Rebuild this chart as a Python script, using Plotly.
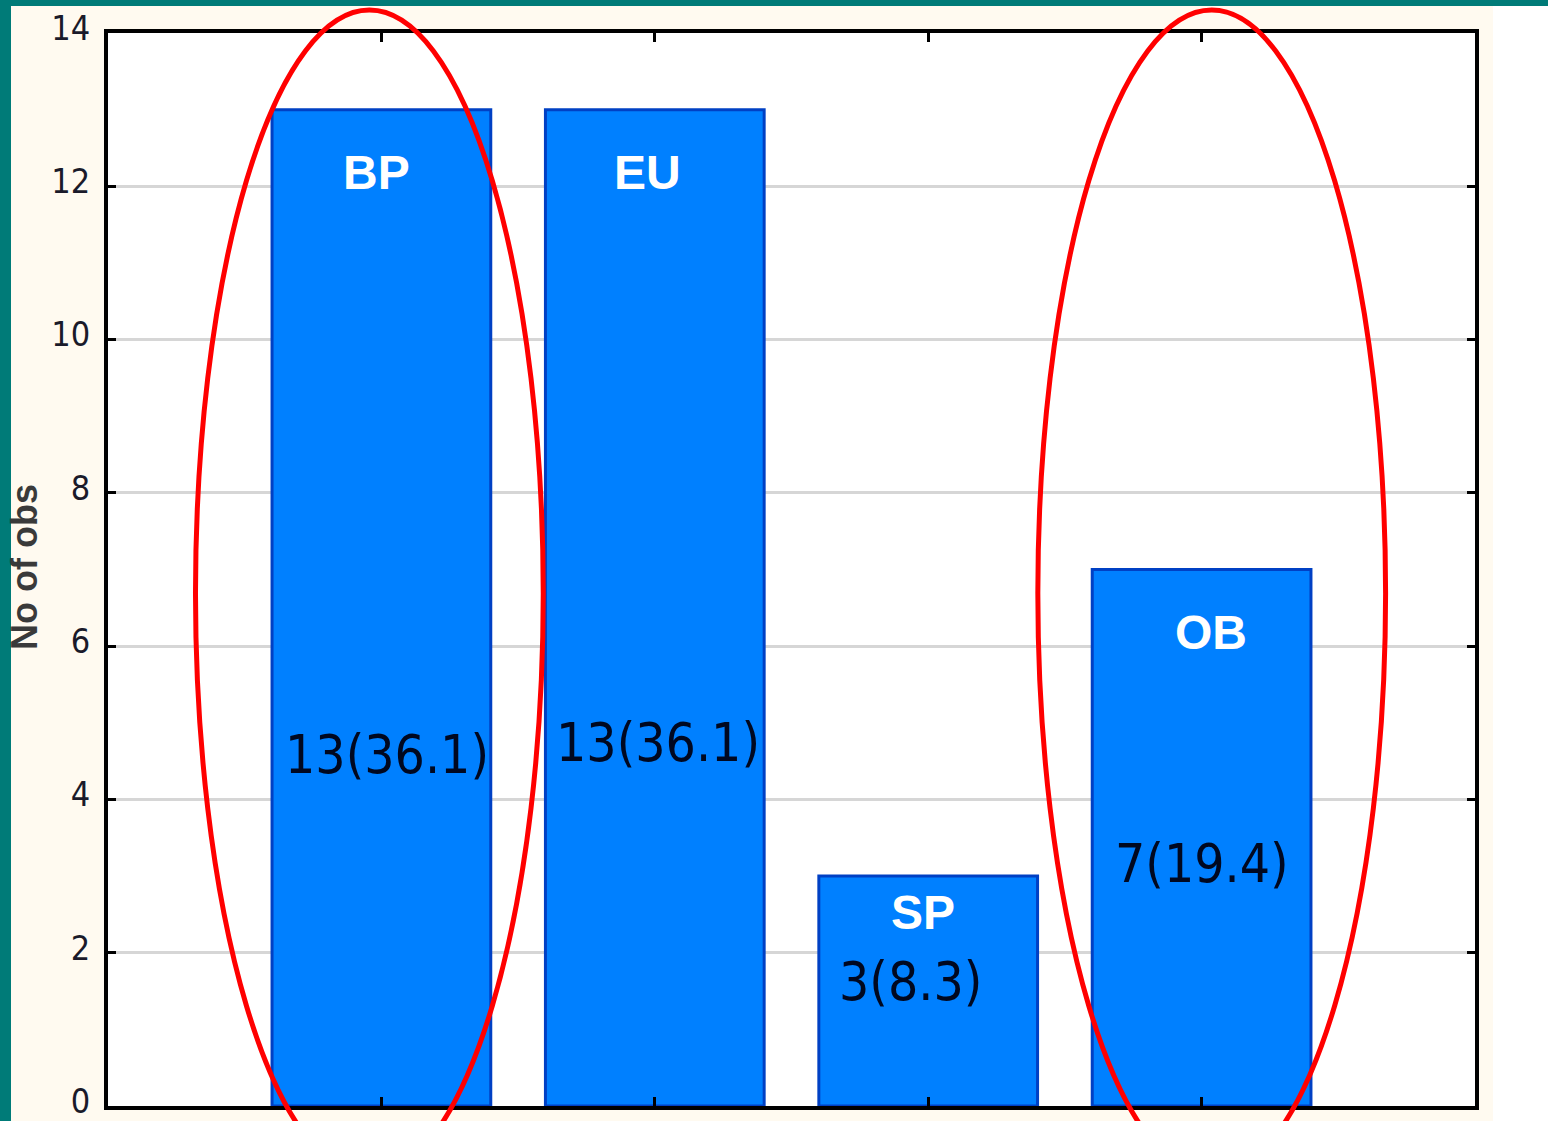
import plotly.graph_objects as go

# Observation counts per group
groups = ["BP", "EU", "SP", "OB"]
counts = [13, 13, 3, 7]
percents = [36.1, 36.1, 8.3, 19.4]
y_ticks = [0, 2, 4, 6, 8, 10, 12, 14]

# Vertical placement of the in-bar labels (axis units)
name_label_y = [12.18, 12.18, 2.53, 6.18]
count_label_y = [4.58, 4.74, 1.62, 3.16]
name_label_dx = [-5, -7, -5, 9]
count_label_dx = [6, 3, -18, 0]

# Groups highlighted with an ellipse
highlighted = ["BP", "OB"]

W, H = 1548, 1121
M_L, M_R, M_T, M_B = 108, 73, 33, 15
X_RANGE = [-1, 4]
Y_RANGE = [0, 14]

TEAL = "#007B78"
CREAM = "#FFFAF0"
BAR_FILL = "#0080FF"
BAR_EDGE = "#0040C4"
NARROW = "Liberation Sans Narrow, Arial Narrow, DejaVu Sans Condensed, sans-serif"

fig = go.Figure()

fig.add_trace(go.Bar(
    x=groups,
    y=counts,
    width=0.8,
    marker=dict(color=BAR_FILL, line=dict(color=BAR_EDGE, width=3)),
    hoverinfo="skip",
    showlegend=False,
))

# Labels inside the bars
for i, g in enumerate(groups):
    fig.add_annotation(
        x=g, y=name_label_y[i], text=f"<b>{g}</b>", showarrow=False,
        xshift=name_label_dx[i],
        font=dict(family="Liberation Sans, Arial, sans-serif", size=48, color="white"),
    )
    fig.add_annotation(
        x=g, y=count_label_y[i], text=f"{counts[i]}({percents[i]})", showarrow=False,
        xshift=count_label_dx[i],
        font=dict(family=NARROW, size=53, color="#000820"),
    )

# Ellipses around the highlighted groups, placed in axis units
ell_half_w = 0.636
ell_cy, ell_half_h = 6.69, 7.61
ell_dx = {"BP": -0.044, "OB": 0.037}
x_span = X_RANGE[1] - X_RANGE[0]
y_span = Y_RANGE[1] - Y_RANGE[0]
for g in highlighted:
    cx = groups.index(g) + ell_dx[g]
    fig.add_shape(
        type="circle", xref="x domain", yref="y domain", layer="above",
        x0=(cx - ell_half_w - X_RANGE[0]) / x_span, x1=(cx + ell_half_w - X_RANGE[0]) / x_span,
        y0=(ell_cy - ell_half_h - Y_RANGE[0]) / y_span, y1=(ell_cy + ell_half_h - Y_RANGE[0]) / y_span,
        line=dict(color="#FF0000", width=5),
    )

# Frame around the page: teal strips on top/left, white strip on the right
pw = W - M_L - M_R
ph = H - M_T - M_B
def px_x(p):
    return (p - M_L) / pw
def px_y(p):
    return 1 - (p - M_T) / ph

fig.add_shape(type="rect", xref="paper", yref="paper", layer="below",
              x0=px_x(1493), x1=px_x(W + 5), y0=px_y(H + 5), y1=px_y(6),
              fillcolor="white", line=dict(width=0))
fig.add_shape(type="rect", xref="paper", yref="paper", layer="below",
              x0=px_x(-5), x1=px_x(11), y0=px_y(H + 5), y1=px_y(-5),
              fillcolor=TEAL, line=dict(width=0))
fig.add_shape(type="rect", xref="paper", yref="paper", layer="below",
              x0=px_x(-5), x1=px_x(W + 5), y0=px_y(6), y1=px_y(-5),
              fillcolor=TEAL, line=dict(width=0))

# Y axis title
fig.add_annotation(
    xref="paper", yref="paper", x=px_x(24), y=px_y(567),
    text="<b>No of obs</b>", textangle=-90, showarrow=False,
    xanchor="center", yanchor="middle",
    font=dict(family="Liberation Sans, Arial, sans-serif", size=36, color="#3a3a3a"),
)

fig.update_layout(
    width=W, height=H,
    margin=dict(l=M_L, r=M_R, t=M_T, b=M_B, pad=0, autoexpand=False),
    paper_bgcolor=CREAM,
    plot_bgcolor="white",
    bargap=0.2,
)
fig.update_xaxes(
    type="category", range=X_RANGE, automargin=False,
    showgrid=False, zeroline=False,
    showline=True, linecolor="black", linewidth=4, mirror="all",
    ticks="inside", ticklen=9, tickwidth=3, tickcolor="black",
    showticklabels=False,
)
fig.update_yaxes(
    range=Y_RANGE, tickvals=y_ticks, automargin=False,
    showgrid=True, gridcolor="#D6D6D6", gridwidth=3, zeroline=False,
    showline=True, linecolor="black", linewidth=4, mirror="all",
    ticks="inside", ticklen=8, tickwidth=3, tickcolor="black",
    tickfont=dict(family=NARROW, size=34, color="#1a1a2a"),
    ticklabelstandoff=7, ticklabelshift=-5, ticklabeloverflow="allow",
)

fig.write_html("out.html")
